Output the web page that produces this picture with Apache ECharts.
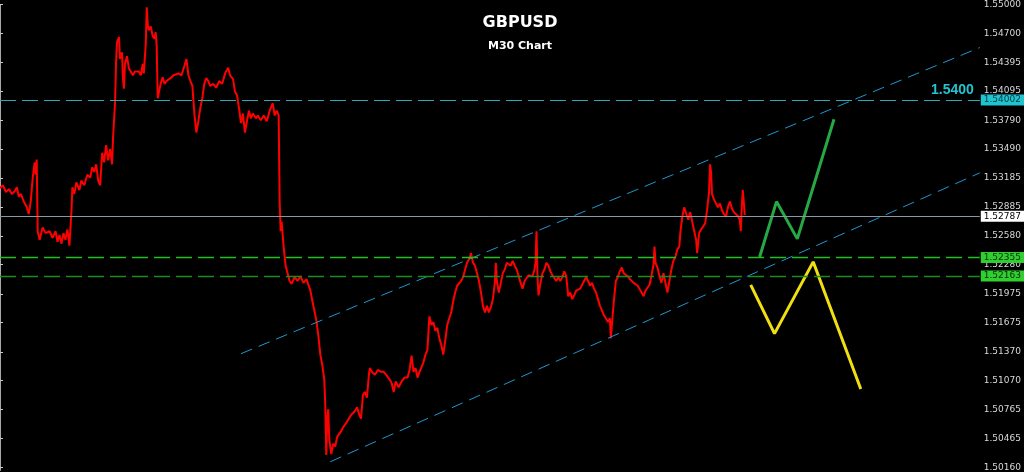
<!DOCTYPE html>
<html>
<head>
<meta charset="utf-8">
<script src="https://cdn.jsdelivr.net/npm/echarts@6/dist/echarts.min.js"></script>
<style>
html, body { margin: 0; padding: 0; background: #000; }
#chart { width: 1024px; height: 472px; }
</style>
</head>
<body>
<div id="chart"></div>
<script>
// GBPUSD M30 closes, [bar, price]
var priceBars = [
  [0,1.5308],[3,1.5311],[6,1.5304],[9,1.5307],[12,1.5302],[15,1.5305],[17,1.5309],[19,1.5299],[21,1.5302],[24,1.5294],
  [27,1.5288],[29,1.5281],[31,1.5294],[33,1.5319],[35,1.5335],[36,1.5322],[37,1.5338],[38,1.5263],[40,1.5254],[43,1.5267],
  [46,1.5261],[50,1.5263],[53,1.5256],[56,1.5263],[58,1.5252],[60,1.5259],[62,1.5250],[64,1.5261],[66,1.5254],[68,1.5265],
  [70,1.5248],[72,1.5283],[73,1.5309],[75,1.5302],[77,1.5314],[80,1.5306],[82,1.5316],[85,1.5311],[88,1.5322],[91,1.5319],
  [93,1.5330],[95,1.5325],[97,1.5333],[99,1.5316],[101,1.5311],[103,1.5345],[105,1.5335],[107,1.5353],[109,1.5337],[111,1.5349],
  [113,1.5333],[114,1.5361],[116,1.5397],[117,1.5438],[118,1.5461],[120,1.5466],[121,1.5443],[123,1.5450],[124,1.5423],[125,1.5412],
  [126,1.5438],[128,1.5446],[130,1.5433],[132,1.5432],[134,1.5426],[136,1.5430],[138,1.5428],[140,1.5430],[142,1.5426],[144,1.5438],
  [145,1.5428],[147,1.5459],[148,1.5497],[149,1.5479],[150,1.5473],[152,1.5477],[154,1.5467],[156,1.5464],[157,1.5471],[158,1.5457],
  [159,1.5402],[160,1.5407],[162,1.5417],[164,1.5424],[166,1.5417],[168,1.5420],[170,1.5421],[172,1.5423],[175,1.5426],[177,1.5424],
  [180,1.5428],[183,1.5426],[186,1.5436],[188,1.5443],[190,1.5426],[192,1.5420],[194,1.5415],[196,1.5386],[198,1.5366],[200,1.5378],
  [202,1.5392],[204,1.5402],[206,1.5417],[208,1.5423],[210,1.5420],[212,1.5415],[215,1.5417],[218,1.5413],[221,1.5420],[224,1.5417],
  [227,1.5428],[230,1.5434],[232,1.5426],[235,1.5422],[237,1.5409],[239,1.5405],[241,1.5392],[243,1.5376],[245,1.5386],[247,1.5366],
  [249,1.5378],[251,1.5389],[253,1.5381],[255,1.5386],[258,1.5381],[260,1.5384],[263,1.5379],[266,1.5384],[269,1.5378],[272,1.5389],
  [275,1.5397],[277,1.5384],[279,1.5389],[281,1.5384],[282,1.5294],[283,1.5263],[284,1.5273],[286,1.5247],[288,1.5227],[290,1.5219],
  [292,1.5211],[294,1.5208],[297,1.5215],[300,1.5211],[303,1.5216],[306,1.5209],[309,1.5213],[311,1.5207],[313,1.5201],[315,1.5190],
  [317,1.5180],[319,1.5170],[321,1.5154],[323,1.5134],[325,1.5123],[327,1.5108],[328,1.5082],[329,1.5029],[330,1.5067],[331,1.5077],
  [332,1.5046],[334,1.5030],[336,1.5041],[338,1.5038],[340,1.5048],[342,1.5046],[344,1.5054],[346,1.5058],[348,1.5061],[350,1.5064],
  [352,1.5062],[354,1.5071],[356,1.5069],[358,1.5075],[360,1.5079],[362,1.5072],[364,1.5067],[366,1.5092],[368,1.5095],[370,1.5089],
  [372,1.5113],[373,1.5120],[375,1.5116],[378,1.5113],[381,1.5118],[384,1.5116],[387,1.5116],[390,1.5112],[393,1.5108],[395,1.5104],
  [397,1.5095],[399,1.5106],[402,1.5100],[405,1.5106],[408,1.5110],[411,1.5110],[413,1.5118],[415,1.5133],[417,1.5116],[419,1.5120],
  [421,1.5110],[423,1.5116],[425,1.5118],[427,1.5126],[429,1.5134],[431,1.5139],[433,1.5174],[435,1.5165],[437,1.5168],[439,1.5159],
  [441,1.5162],[443,1.5151],[445,1.5144],[447,1.5134],[449,1.5149],[451,1.5165],[453,1.5172],[455,1.5178],[457,1.5190],[459,1.5199],
  [461,1.5206],[463,1.5208],[465,1.5211],[467,1.5215],[469,1.5223],[471,1.5230],[473,1.5234],[475,1.5240],[477,1.5230],[479,1.5227],
  [481,1.5219],[483,1.5211],[485,1.5199],[487,1.5185],[489,1.5178],[491,1.5185],[493,1.5178],[495,1.5184],[497,1.5192],[499,1.5209],
  [500,1.5230],[501,1.5211],[503,1.5199],[505,1.5209],[507,1.5219],[509,1.5223],[511,1.5230],[513,1.5230],[515,1.5227],[517,1.5232],
  [519,1.5227],[521,1.5223],[523,1.5216],[525,1.5209],[527,1.5203],[529,1.5211],[531,1.5213],[533,1.5217],[535,1.5219],[537,1.5216],
  [539,1.5223],[540,1.5230],[541,1.5263],[542,1.5216],[543,1.5196],[545,1.5209],[547,1.5219],[549,1.5223],[551,1.5230],[553,1.5227],
  [555,1.5221],[557,1.5217],[559,1.5215],[561,1.5211],[563,1.5215],[565,1.5211],[567,1.5215],[569,1.5221],[571,1.5216],[573,1.5195],
  [575,1.5199],[577,1.5192],[579,1.5196],[581,1.5201],[583,1.5199],[585,1.5203],[587,1.5207],[589,1.5211],[591,1.5215],[593,1.5211],
  [595,1.5206],[597,1.5209],[599,1.5203],[601,1.5199],[603,1.5192],[605,1.5185],[607,1.5180],[609,1.5175],[611,1.5172],[613,1.5168],
  [615,1.5172],[616,1.5151],[617,1.5165],[619,1.5190],[621,1.5211],[623,1.5215],[625,1.5221],[627,1.5225],[629,1.5219],[631,1.5221],
  [633,1.5216],[635,1.5213],[637,1.5215],[639,1.5209],[641,1.5211],[643,1.5206],[645,1.5206],[647,1.5199],[649,1.5195],[651,1.5201],
  [653,1.5203],[655,1.5207],[657,1.5217],[659,1.5228],[660,1.5247],[661,1.5230],[663,1.5225],[665,1.5216],[667,1.5209],[669,1.5219],
  [671,1.5221],[673,1.5199],[675,1.5211],[677,1.5223],[679,1.5232],[681,1.5236],[683,1.5244],[685,1.5247],[686,1.5261],[688,1.5278],
  [690,1.5288],[692,1.5281],[694,1.5275],[696,1.5283],[698,1.5273],[700,1.5271],[702,1.5254],[703,1.5240],[705,1.5261],[707,1.5265],
  [709,1.5265],[711,1.5271],[713,1.5285],[715,1.5304],[716,1.5333],[717,1.5325],[718,1.5302],[720,1.5296],[722,1.5294],[724,1.5288],
  [726,1.5292],[728,1.5285],[730,1.5281],[732,1.5278],[734,1.5288],[736,1.5294],[738,1.5287],[740,1.5283],[742,1.5281],[744,1.5279],
  [746,1.5275],[747,1.5263],[748,1.5288],[749,1.5306],[750,1.5294],[751,1.5280]
];

var channelUpper = [[243, 1.5135], [988, 1.5455]];
var channelLower = [[333, 1.5022], [988, 1.5324]];
var bullPath = [[766, 1.5236], [783, 1.5294], [804, 1.5255], [841, 1.5380]];
var bearPath = [[757, 1.5207], [781, 1.5156], [820, 1.5231], [868, 1.5098]];

var resistance = 1.54002;
var lastPrice = 1.52787;
var support1 = 1.52355;
var support2 = 1.52163;

var priceTicks = [1.55000, 1.54700, 1.54395, 1.54095, 1.53790, 1.53490, 1.53185, 1.52885,
  1.52580, 1.52280, 1.51975, 1.51675, 1.51370, 1.51070, 1.50765, 1.50465, 1.50160];

var chart = echarts.init(document.getElementById('chart'));

var axisFont = 'Tahoma, "DejaVu Sans", sans-serif';
function tagLabel(bg, fg) {
  return {
    show: true,
    position: 'end',
    distance: 1,
    formatter: function (p) { return p.value.toFixed(5); },
    backgroundColor: bg,
    color: fg,
    fontFamily: axisFont,
    fontSize: 9,
    padding: [1, 3, 1, 3]
  };
}

var option = {
  backgroundColor: '#000000',
  animation: false,
  title: [
    {
      text: 'GBPUSD',
      left: 515, top: 10, textAlign: 'center',
      textStyle: { color: '#ffffff', fontSize: 16, fontWeight: 'bold', fontFamily: '"DejaVu Sans"' }
    },
    {
      text: 'M30 Chart',
      left: 515, top: 36, textAlign: 'center',
      textStyle: { color: '#ffffff', fontSize: 11, fontWeight: 'bold', fontFamily: '"DejaVu Sans"' }
    }
  ],
  grid: { left: 0, right: 36, top: 0, bottom: 0 },
  xAxis: {
    type: 'value', min: 0, max: 988,
    show: false
  },
  yAxis: {
    type: 'value',
    position: 'right',
    min: 1.5013, max: 1.5500,
    splitLine: { show: false },
    axisLine: { show: true, lineStyle: { color: '#a8a8a8', width: 1 } },
    axisTick: { show: true, length: 3, customValues: priceTicks, lineStyle: { color: '#c8c8c8' } },
    axisLabel: {
      customValues: priceTicks,
      margin: 4,
      color: '#d8d8d8',
      fontSize: 9,
      fontFamily: axisFont,
      formatter: function (v) { return v.toFixed(5); }
    }
  },
  series: [
    {
      name: 'GBPUSD',
      type: 'line',
      data: priceBars,
      showSymbol: false,
      symbol: 'none',
      lineStyle: { color: '#ff0000', width: 2 },
      z: 3,
      markLine: {
        silent: true,
        symbol: 'none',
        precision: 5,
        data: [
          { yAxis: resistance, lineStyle: { color: '#2aa8b8', type: [16, 6], width: 1 }, label: tagLabel('#20c4d0', '#06363a') },
          {
            yAxis: resistance, lineStyle: { color: '#2aa8b8', type: [16, 6], width: 1 },
            label: {
              show: true, position: 'insideEndTop', distance: [6, 3], formatter: '1.5400',
              color: '#22c4d0', fontSize: 14, fontWeight: 'bold', fontFamily: '"Liberation Sans", Arial'
            }
          },
          { yAxis: lastPrice, lineStyle: { color: '#8a96a6', type: 'solid', width: 1 }, label: tagLabel('#ffffff', '#000000') },
          { yAxis: support1, lineStyle: { color: '#1fc01f', type: [16, 6], width: 1.3 }, label: tagLabel('#2fcf2f', '#0a2a0a') },
          { yAxis: support2, lineStyle: { color: '#1c8c1c', type: [16, 6], width: 1.3 }, label: tagLabel('#2fcf2f', '#0a2a0a') }
        ]
      }
    },
    {
      name: 'Channel top',
      type: 'line',
      data: channelUpper,
      symbol: 'none',
      lineStyle: { color: '#1e98d0', type: [12, 7], width: 1 }
    },
    {
      name: 'Channel bottom',
      type: 'line',
      data: channelLower,
      symbol: 'none',
      lineStyle: { color: '#1e98d0', type: [12, 7], width: 1 }
    },
    {
      name: 'Bull scenario',
      type: 'line',
      data: bullPath,
      symbol: 'none',
      lineStyle: { color: '#26a844', width: 3 }
    },
    {
      name: 'Bear scenario',
      type: 'line',
      data: bearPath,
      symbol: 'none',
      lineStyle: { color: '#f0e010', width: 3 }
    }
  ]
};

chart.setOption(option);
</script>
</body>
</html>
